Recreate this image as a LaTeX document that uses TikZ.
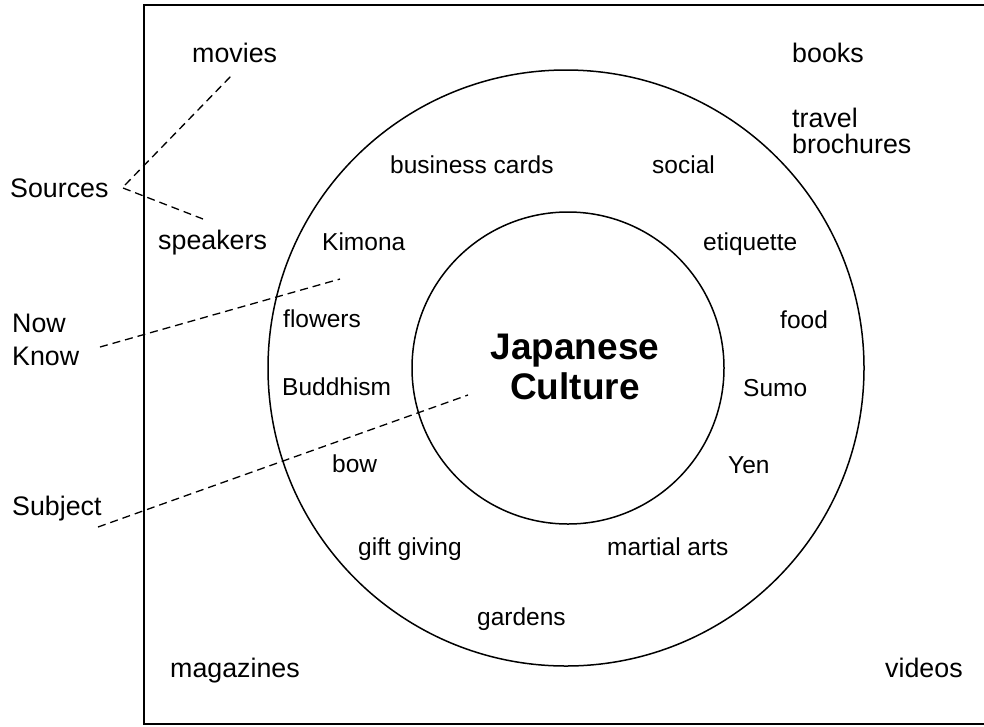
\documentclass[tikz,border=0pt]{standalone}
\usepackage{fontspec}
\setmainfont{Liberation Sans}
\begin{document}
\begin{tikzpicture}[x=1pt,y=-1pt,
  outer/.style={anchor=base west,inner sep=0pt,font=\fontsize{26.8}{28}\selectfont},
  inner/.style={anchor=base west,inner sep=0pt,font=\fontsize{24.5}{26}\selectfont},
  title/.style={anchor=base,inner sep=0pt,font=\fontsize{37}{40}\selectfont\bfseries},
  ring/.style={draw=black,line width=1.5pt},
  guide/.style={draw=black,line width=1.3pt,dash pattern=on 8pt off 5pt}]
\useasboundingbox (0,0) rectangle (984,726);
\fill[white] (0,0) rectangle (984,726);
% frame
\draw[line width=2pt] (984,5) -- (144,5) -- (144,724) -- (984,724);
% circles
\node[ring,circle,minimum size=596pt,inner sep=0pt] (outerc) at (566,368) {};
\node[ring,circle,minimum size=312pt,inner sep=0pt] (innerc) at (568,368) {};
% title
\node[title] (jap) at (575,359.5) {Japanese};
\node[title] (cul) at (575,399.5) {Culture};
% outer labels
\node[outer] (movies) at (192,62) {movies};
\node[outer] (books) at (792,62) {books};
\node[outer] (travel) at (792,127) {travel};
\node[outer] (broch) at (792,153) {brochures};
\node[outer] (sources) at (10,197) {Sources};
\node[outer] (speakers) at (158,249) {speakers};
\node[outer] (now) at (12,332) {Now};
\node[outer] (know) at (12,365) {Know};
\node[outer] (subject) at (12,515) {Subject};
\node[outer] (magazines) at (170,677) {magazines};
\node[outer] (videos) at (885,677) {videos};
% inner labels
\node[inner] (bcards) at (390,173) {business cards};
\node[inner] (social) at (652,173) {social};
\node[inner] (kimona) at (322,250) {Kimona};
\node[inner] (etiq) at (703,250) {etiquette};
\node[inner] (flowers) at (283,327) {flowers};
\node[inner] (food) at (780,328) {food};
\node[inner] (buddhism) at (282,395) {Buddhism};
\node[inner] (sumo) at (743,396) {Sumo};
\node[inner] (bow) at (332,472) {bow};
\node[inner] (yen) at (728,473) {Yen};
\node[inner] (gift) at (358,555) {gift giving};
\node[inner] (martial) at (607,555) {martial arts};
\node[inner] (gardens) at (477,625) {gardens};
% guide line ends
\coordinate (s1a) at (125,185);
\coordinate (s1b) at (232,75);
\coordinate (s2a) at (123,188);
\coordinate (s2b) at (203,219);
\coordinate (nka) at (100,347);
\coordinate (nkb) at (340,279);
\coordinate (sba) at (98,527);
\coordinate (sbb) at (468,395);
\draw[guide] (s1a) -- (s1b);
\draw[guide] (s2a) -- (s2b);
\draw[guide] (nka) -- (nkb);
\draw[guide] (sba) -- (sbb);
\end{tikzpicture}
\end{document}
